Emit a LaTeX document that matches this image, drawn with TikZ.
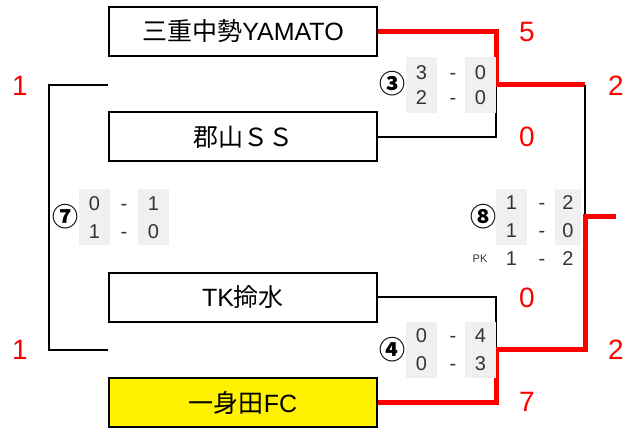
\documentclass[tikz,border=0pt]{standalone}
\usepackage{fontspec}
\setmainfont{Noto Sans CJK JP}
\newfontfamily\lat{Liberation Sans}
\begin{document}
\begin{tikzpicture}[x=1pt,y=-1pt,
  team/.style={draw=black,line width=2pt,minimum width=268pt,minimum height=49pt,inner sep=0pt,font=\fontsize{25}{25}\selectfont},
  pts/.style={text=red,inner sep=0pt,font=\lat\fontsize{28}{28}\selectfont},
  cell/.style={fill=black!6,inner sep=0pt,minimum width=31pt,minimum height=56pt},
  sc/.style={text=black!80,inner sep=0pt,text height=14pt,text depth=0pt,font=\lat\fontsize{20}{20}\selectfont},
  mno/.style={inner sep=0pt,font=\bfseries\fontsize{26}{26}\selectfont},
  loss/.style={line width=2pt},
  win/.style={red,line width=5pt}]

\useasboundingbox (0,0) rectangle (643,430);

%% teams
\node[team] (t1) at (243,31.5) {三重中勢{\lat YAMATO}};
\node[team] (t2) at (243,137) {郡山ＳＳ};
\node[team] (t3) at (243,297.5) {{\lat TK}掵水};
\node[team,fill=yellow] (t4) at (243,402.5) {一身田{\lat FC}};

%% junctions
\coordinate (s1) at (496,85);
\coordinate (s2) at (496,350);
\coordinate (f) at (585,217);
\coordinate (w) at (616,217);
\coordinate (l1) at (108,85);
\coordinate (l2) at (108,350);

%% semi final 3
\draw[loss] (t2.east) -| (s1);
\draw[win] (t1.east) -| (s1) -- (585,85);
\draw[loss] (585,85) -- (f);

%% semi final 4
\draw[loss] (t3.east) -| (s2);
\draw[win] (t4.east) -| (s2) -| (f) -- (w);

%% match 7
\draw[loss] (l1) -- (49,85) -- (49,350) -- (l2);

%% points
\node[pts] (p1) at (527,32) {5};
\node[pts] (p2) at (527,137) {0};
\node[pts] (p3) at (527,298) {0};
\node[pts] (p4) at (527,402) {7};
\node[pts] (p5) at (616,86) {2};
\node[pts] (p6) at (616,350) {2};
\node[pts] (p7) at (20,86) {1};
\node[pts] (p8) at (20,350) {1};

%% score 3
\node[cell] (c3a) at (421.5,85) {};
\node[cell] (c3b) at (480.5,85) {};
\node[mno] (m3) at (392,84) {③};
\node[sc] (r3a) at (421.5,73) {3}; \node[sc] (d3a) at (453,73) {-}; \node[sc] (q3a) at (480.5,73) {0};
\node[sc] (r3b) at (421.5,98) {2}; \node[sc] (d3b) at (453,98) {-}; \node[sc] (q3b) at (480.5,98) {0};

%% score 4
\node[cell] (c4a) at (421.5,350) {};
\node[cell] (c4b) at (480.5,350) {};
\node[mno] (m4) at (392,350) {④};
\node[sc] (r4a) at (421.5,336) {0}; \node[sc] (d4a) at (453,336) {-}; \node[sc] (q4a) at (480.5,336) {4};
\node[sc] (r4b) at (421.5,364) {0}; \node[sc] (d4b) at (453,364) {-}; \node[sc] (q4b) at (480.5,364) {3};

%% score 7
\node[cell] (c7a) at (94.5,217.5) {};
\node[cell] (c7b) at (153.5,217.5) {};
\node[mno] (m7) at (65,217) {⑦};
\node[sc] (r7a) at (94.5,204) {0}; \node[sc] (d7a) at (124,204) {-}; \node[sc] (q7a) at (153.5,204) {1};
\node[sc] (r7b) at (94.5,232) {1}; \node[sc] (d7b) at (124,232) {-}; \node[sc] (q7b) at (153.5,232) {0};

%% score 8
\node[cell] (c8a) at (511.5,217) {};
\node[cell,minimum width=26pt] (c8b) at (568,217) {};
\node[mno] (m8) at (483,217) {⑧};
\node[sc] (r8a) at (511.5,203) {1}; \node[sc] (d8a) at (542,203) {-}; \node[sc] (q8a) at (568,203) {2};
\node[sc] (r8b) at (511.5,231) {1}; \node[sc] (d8b) at (542,231) {-}; \node[sc] (q8b) at (568,231) {0};
\node[sc,font=\lat\fontsize{11}{11}\selectfont,text height=8pt] (pk) at (480,259) {PK};
\node[sc] (r8c) at (511.5,259) {1}; \node[sc] (d8c) at (542,259) {-}; \node[sc] (q8c) at (568,259) {2};

\end{tikzpicture}
\end{document}
